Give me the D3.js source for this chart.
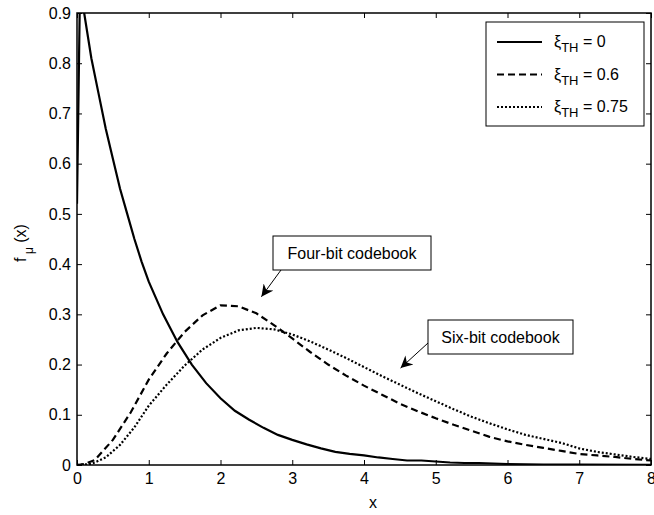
<!DOCTYPE html>
<html>
<head>
<meta charset="utf-8">
<script src="https://cdn.jsdelivr.net/npm/d3@7"></script>
<style>
  body { margin: 0; background: #fff; }
  text { font-family: "Liberation Sans", Arial, sans-serif; }
</style>
</head>
<body>
<script>
// Values
var xTicks = [0, 1, 2, 3, 4, 5, 6, 7, 8];
var yTicks = [0, 0.1, 0.2, 0.3, 0.4, 0.5, 0.6, 0.7, 0.8, 0.9];

var seriesNames = ["0", "0.6", "0.75"];

var xi0 = [[0, 0.52], [0.04, 0.93], [0.1, 0.9], [0.2, 0.81], [0.3, 0.74], [0.4, 0.67],
  [0.5, 0.61], [0.6, 0.55], [0.7, 0.5], [0.8, 0.45], [0.9, 0.405], [1.0, 0.365],
  [1.2, 0.3], [1.4, 0.245], [1.6, 0.2], [1.8, 0.163], [2.0, 0.133], [2.2, 0.108],
  [2.4, 0.09], [2.6, 0.074], [2.8, 0.06], [3.0, 0.05], [3.2, 0.041], [3.4, 0.033],
  [3.6, 0.026], [3.8, 0.022], [4.0, 0.019], [4.2, 0.015], [4.4, 0.012], [4.6, 0.009],
  [4.8, 0.009], [5.0, 0.007], [5.2, 0.005], [5.4, 0.004], [5.6, 0.004], [5.8, 0.003],
  [6.0, 0.002], [6.5, 0.001], [7.0, 0.001], [8.0, 0.0005]];

var xi06 = [[0, 0], [0.1, 0.002], [0.25, 0.01], [0.5, 0.05], [0.75, 0.105], [1.0, 0.17],
  [1.25, 0.222], [1.5, 0.265], [1.75, 0.298], [2.0, 0.318], [2.25, 0.316], [2.5, 0.302],
  [2.75, 0.278], [3.0, 0.252], [3.25, 0.225], [3.5, 0.2], [3.75, 0.178], [4.0, 0.158],
  [4.25, 0.14], [4.5, 0.122], [4.75, 0.107], [5.0, 0.093], [5.25, 0.08], [5.5, 0.068],
  [5.75, 0.056], [6.0, 0.047], [6.25, 0.04], [6.5, 0.034], [6.75, 0.028], [7.0, 0.022],
  [7.25, 0.019], [7.5, 0.016], [7.75, 0.012], [8.0, 0.009]];

var xi075 = [[0, 0], [0.2, 0.002], [0.4, 0.015], [0.6, 0.04], [0.8, 0.075], [1.0, 0.118],
  [1.25, 0.16], [1.5, 0.198], [1.75, 0.23], [2.0, 0.253], [2.25, 0.268], [2.5, 0.273],
  [2.75, 0.27], [3.0, 0.26], [3.25, 0.246], [3.5, 0.23], [3.75, 0.213], [4.0, 0.195],
  [4.25, 0.177], [4.5, 0.16], [4.75, 0.143], [5.0, 0.127], [5.25, 0.111], [5.5, 0.096],
  [5.75, 0.083], [6.0, 0.071], [6.25, 0.06], [6.5, 0.052], [6.75, 0.044], [7.0, 0.033],
  [7.25, 0.026], [7.5, 0.021], [7.75, 0.016], [8.0, 0.012]];

var series = [xi0, xi06, xi075];
var dashes = [null, "7,4", "2,2"];

var margin = {top: 13, right: 3, bottom: 50, left: 77},
    width = 654 - margin.left - margin.right,
    height = 515 - margin.top - margin.bottom;

var svg = d3.select("body")
  .append("svg")
    .attr("width", 654)
    .attr("height", 515)
  .append("g")
    .attr("transform", "translate(" + margin.left + "," + margin.top + ")");

var x = d3.scaleLinear().domain([0, 8]).range([0, width]);
var y = d3.scaleLinear().domain([0, 0.9]).range([height, 0]);

svg.append("clipPath").attr("id", "clip")
  .append("rect").attr("width", width).attr("height", height);

// Curves
var line = d3.line()
  .x(function(d) { return x(d[0]); })
  .y(function(d) { return y(d[1]); });

svg.append("g").attr("clip-path", "url(#clip)")
  .selectAll("path")
  .data(series)
  .enter()
  .append("path")
    .attr("d", line)
    .attr("fill", "none")
    .attr("stroke", "#000")
    .attr("stroke-width", 2.2)
    .attr("stroke-dasharray", function(d, i) { return dashes[i]; });

// Axes, ticks pointing inward on all four sides
function styleAxis(g) {
  g.select(".domain").remove();
  g.selectAll(".tick line").attr("stroke", "#000");
  g.selectAll(".tick text").attr("fill", "#000").style("font-size", "16px");
}

svg.append("g")
  .attr("transform", "translate(0," + height + ")")
  .call(d3.axisBottom(x).tickValues(xTicks).tickSizeInner(-5).tickSizeOuter(0).tickPadding(8))
  .call(styleAxis);

svg.append("g")
  .call(d3.axisLeft(y).tickValues(yTicks).tickFormat(d3.format("")).tickSizeInner(-5).tickSizeOuter(0).tickPadding(6))
  .call(styleAxis);

svg.append("g")
  .call(d3.axisTop(x).tickValues(xTicks).tickFormat("").tickSizeInner(-5).tickSizeOuter(0))
  .call(styleAxis);

svg.append("g")
  .attr("transform", "translate(" + width + ",0)")
  .call(d3.axisRight(y).tickValues(yTicks).tickFormat("").tickSizeInner(-5).tickSizeOuter(0))
  .call(styleAxis);

svg.append("rect")
  .attr("width", width).attr("height", height)
  .attr("fill", "none").attr("stroke", "#000").attr("stroke-width", 1.5);

// Axis labels
svg.append("text")
  .attr("x", width / 2 + 9).attr("y", height + 43)
  .attr("text-anchor", "middle").style("font-size", "16px")
  .text("x");

var yl = svg.append("text")
  .attr("transform", "translate(-51," + (height / 2 + 4) + ") rotate(-90)")
  .attr("text-anchor", "middle").style("font-size", "16px");
yl.append("tspan").text("f");
yl.append("tspan").attr("dy", 7).style("font-size", "12px").text("\u00a0\u03bc");
yl.append("tspan").attr("dy", -7).text("\u00a0(x)");

// Legend
var lg = svg.append("g").attr("transform", "translate(409,9)");
lg.append("rect")
  .attr("width", 158).attr("height", 104)
  .attr("fill", "#fff").attr("stroke", "#000").attr("stroke-width", 1);

var items = lg.selectAll(".item")
  .data(seriesNames)
  .enter()
  .append("g")
    .attr("transform", function(d, i) { return "translate(0," + (20 + i * 32.5) + ")"; });

items.append("line")
  .attr("x1", 11).attr("x2", 56)
  .attr("stroke", "#000").attr("stroke-width", 2.2)
  .attr("stroke-dasharray", function(d, i) { return dashes[i]; });

var lt = items.append("text")
  .attr("x", 68).attr("y", 5).style("font-size", "16px");
lt.append("tspan").text("\u03be");
lt.append("tspan").attr("dy", 5).style("font-size", "13px").text("TH");
lt.append("tspan").attr("dy", -5).text(function(d) { return " = " + d; });

// Annotations
svg.append("defs").append("marker")
  .attr("id", "arrow")
  .attr("viewBox", "0 0 10 10")
  .attr("refX", 10).attr("refY", 5)
  .attr("markerWidth", 14).attr("markerHeight", 12)
  .attr("markerUnits", "userSpaceOnUse")
  .attr("orient", "auto")
  .append("path").attr("d", "M0,0 L10,5 L0,10 L3,5 Z").attr("fill", "#000");

var notes = [
  {text: "Four-bit codebook", box: [196, 223, 158, 34], from: [204, 257], to: [2.57, 0.335]},
  {text: "Six-bit codebook", box: [351, 307, 145, 34], from: [351, 330], to: [4.51, 0.193]}
];

notes.forEach(function(n) {
  svg.append("line")
    .attr("x1", n.from[0]).attr("y1", n.from[1])
    .attr("x2", x(n.to[0])).attr("y2", y(n.to[1]))
    .attr("stroke", "#000").attr("stroke-width", 1)
    .attr("marker-end", "url(#arrow)");
  svg.append("rect")
    .attr("x", n.box[0]).attr("y", n.box[1])
    .attr("width", n.box[2]).attr("height", n.box[3])
    .attr("fill", "#fff").attr("stroke", "#000").attr("stroke-width", 1);
  svg.append("text")
    .attr("x", n.box[0] + n.box[2] / 2).attr("y", n.box[1] + n.box[3] / 2 + 6)
    .attr("text-anchor", "middle").style("font-size", "16px")
    .text(n.text);
});
</script>
</body>
</html>
